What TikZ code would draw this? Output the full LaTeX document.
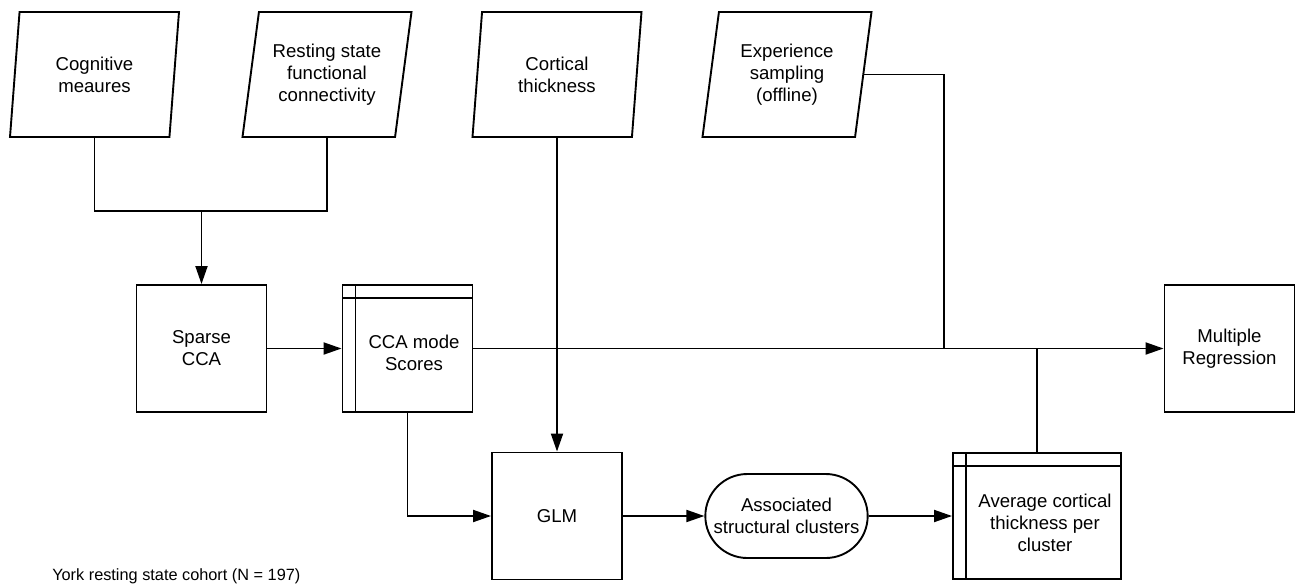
\documentclass[tikz,border=0pt]{standalone}
\usepackage{fontspec}
\setmainfont{Liberation Sans}
\usetikzlibrary{shapes.geometric,shapes.misc,arrows.meta}

\begin{document}
\begin{tikzpicture}[x=1pt,y=-1pt,line width=1.9pt,
  every node/.style={font=\fontsize{18.6}{22}\selectfont,align=center},
  data/.style={draw,trapezium,trapezium left angle=75,trapezium right angle=105,trapezium stretches body,minimum width=169pt,minimum height=125pt,inner sep=0pt},
  proc/.style={draw,rectangle,minimum width=130pt,minimum height=127pt},
  store/.style={proc,path picture={\draw ([xshift=13pt]path picture bounding box.north west) -- ([xshift=13pt]path picture bounding box.south west) ([yshift=-13pt]path picture bounding box.north west) -- ([yshift=-13pt]path picture bounding box.north east);}},
  term/.style={draw,rounded rectangle,minimum width=169pt,minimum height=84pt},
  arr/.style={-{Triangle[length=18pt,width=12pt]}}]
\useasboundingbox (0,0) rectangle (1302,587);

\path (94.5,74.5) node[data](cog){Cognitive\\meaures} (327,74.5) node[data](rsfc){Resting state\\functional\\connectivity} (557,74.5) node[data](ct){Cortical\\thickness} (787,74.5) node[data](es){Experience\\sampling\\(offline)};
\path (201.5,348.5) node[proc](sparse){Sparse\\CCA} (407.5,348.5) node[store,label={[xshift=6.5pt,yshift=-4pt]center:CCA mode\\Scores}](scores){} (1229.5,348.5) node[proc](mr){Multiple\\Regression};
\path (557,516) node[proc](glm){GLM} (786.5,516) node[term](assoc){Associated\\structural clusters} (1037,516) node[store,minimum width=168pt,minimum height=126pt,label={[xshift=8pt,yshift=-7pt]center:Average cortical\\thickness per\\cluster}](avg){};
\path (48,576) node[anchor=west,font=\fontsize{16.3}{20}\selectfont](cohort){York resting state cohort (N = 197)};
\coordinate (join) at (201.5,211);
\coordinate (tapes) at (944,348.5);
\coordinate (tapavg) at (1037,348.5);

\draw (cog.south) |- (join) -| (rsfc.south);
\draw[arr] (join) -- (sparse);
\draw[arr] (sparse) -- (scores);
\draw[arr] (scores) -- (mr);
\draw (es.east) -| (tapes);
\draw (avg) -- (tapavg);
\draw[arr] (ct) -- (glm);
\draw[arr] (scores.south) |- (glm);
\draw[arr] (glm) -- (assoc);
\draw[arr] (assoc) -- (avg);
\end{tikzpicture}
\end{document}
